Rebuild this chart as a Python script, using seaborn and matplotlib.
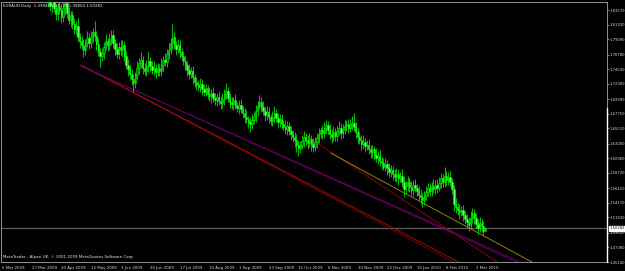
import numpy as np
import pandas as pd
import matplotlib
matplotlib.use("Agg")
import matplotlib.pyplot as plt
import matplotlib.transforms as mtransforms
import seaborn as sns

# ---------------- data ----------------
header_text = "EURAUD,Daily  1.49940 1.50325 1.49804 1.50282"
copyright_text = "MetaTrader - Alpari UK, \u00a9 2001-2009 MetaQuotes Software Corp."

first_bar = 20
first_open = 1.8900
closes = [
    1.8850, 1.8790, 1.8720, 1.8640, 1.8560, 1.8480, 1.8420, 1.8510, 1.8380, 1.8300,
    1.8410, 1.8350, 1.8250, 1.8390, 1.8460, 1.8310, 1.8200, 1.8280, 1.8150, 1.8060,
    1.8120, 1.7950, 1.7880, 1.7820, 1.7750, 1.7860, 1.7930, 1.7850, 1.7950, 1.8020,
    1.7960, 1.7840, 1.7720, 1.7650, 1.7700, 1.7800, 1.7880, 1.7820, 1.7910, 1.7970,
    1.7860, 1.7760, 1.7690, 1.7800, 1.7740, 1.7830, 1.7650, 1.7520, 1.7450, 1.7380,
    1.7300, 1.7250, 1.7360, 1.7480, 1.7550, 1.7600, 1.7470, 1.7420, 1.7500, 1.7580,
    1.7510, 1.7440, 1.7480, 1.7410, 1.7470, 1.7430, 1.7520, 1.7600, 1.7560, 1.7680,
    1.7750, 1.7860, 1.7940, 1.7830, 1.7760, 1.7820, 1.7720, 1.7650, 1.7580, 1.7520,
    1.7440, 1.7380, 1.7420, 1.7330, 1.7260, 1.7220, 1.7180, 1.7230, 1.7150, 1.7100,
    1.7160, 1.7080, 1.7040, 1.7090, 1.7020, 1.6980, 1.7030, 1.6970, 1.6940, 1.7000,
    1.7070, 1.7120, 1.7010, 1.6960, 1.6920, 1.6980, 1.6900, 1.6870, 1.6910, 1.6840,
    1.6780, 1.6730, 1.6690, 1.6650, 1.6620, 1.6680, 1.6740, 1.6820, 1.6900, 1.6960,
    1.6880, 1.6820, 1.6760, 1.6800, 1.6720, 1.6670, 1.6730, 1.6790, 1.6710, 1.6650,
    1.6690, 1.6620, 1.6580, 1.6540, 1.6590, 1.6510, 1.6460, 1.6420, 1.6370, 1.6300,
    1.6250, 1.6290, 1.6360, 1.6420, 1.6380, 1.6330, 1.6390, 1.6310, 1.6270, 1.6340,
    1.6400, 1.6460, 1.6520, 1.6480, 1.6550, 1.6600, 1.6530, 1.6470, 1.6420, 1.6490,
    1.6440, 1.6510, 1.6560, 1.6480, 1.6530, 1.6590, 1.6620, 1.6560, 1.6610, 1.6640,
    1.6580, 1.6490, 1.6420, 1.6370, 1.6310, 1.6350, 1.6280, 1.6300, 1.6240, 1.6190,
    1.6230, 1.6150, 1.6100, 1.6130, 1.6060, 1.6020, 1.5970, 1.6010, 1.5940, 1.5890,
    1.5920, 1.5850, 1.5810, 1.5860, 1.5790, 1.5830, 1.5740, 1.5620, 1.5680, 1.5730,
    1.5660, 1.5610, 1.5690, 1.5640, 1.5600, 1.5540, 1.5500, 1.5460, 1.5520, 1.5580,
    1.5640, 1.5600, 1.5670, 1.5630, 1.5690, 1.5650, 1.5720, 1.5790, 1.5740, 1.5820,
    1.5770, 1.5810, 1.5740, 1.5620, 1.5400, 1.5350, 1.5310, 1.5270, 1.5300, 1.5230,
    1.5170, 1.5120, 1.5080, 1.5190, 1.5260, 1.5180, 1.5090, 1.5040, 1.5110, 1.5060,
    1.4994, 1.50282,
]
wick_up_pips = [
    70, 90, 60, 80, 110, 75, 95, 55, 85, 70,
    60, 95, 70, 120, 55, 80, 100, 65, 60, 90,
    75, 110, 60, 85, 95, 55, 100, 70, 80, 65,
    170, 75, 90, 60, 85, 70, 105, 55, 95, 75,
    85, 60, 95, 70, 105, 75, 60, 85, 95, 70,
    75, 85, 55, 95, 70, 110, 60, 85, 95, 130,
    60, 75, 95, 55, 85, 70, 105, 60, 95, 75,
    105, 75, 200, 85, 60, 95, 75, 55, 85, 75,
    60, 95, 75, 85, 55, 75, 60, 95, 75, 85,
    75, 60, 85, 55, 95, 75, 60, 85, 75, 95,
    75, 130, 60, 85, 75, 55, 95, 60, 75, 85,
    60, 75, 95, 55, 75, 85, 60, 95, 75, 105,
    75, 85, 60, 95, 75, 55, 85, 105, 60, 75,
    85, 75, 60, 95, 75, 55, 85, 60, 75, 95,
    60, 75, 85, 95, 55, 75, 85, 60, 95, 75,
    75, 105, 60, 85, 95, 75, 60, 85, 75, 95,
    60, 75, 105, 75, 85, 95, 60, 75, 85, 95,
    140, 75, 60, 85, 75, 95, 60, 75, 85, 55,
    75, 60, 95, 75, 85, 55, 75, 95, 60, 85,
    75, 60, 85, 95, 75, 60, 105, 85, 75, 95,
    60, 85, 75, 95, 60, 75, 85, 60, 75, 95,
    75, 85, 60, 105, 75, 95, 85, 75, 60, 150,
    85, 75, 95, 60, 75, 85, 60, 95, 75, 85,
    60, 75, 85, 95, 75, 60, 85, 75, 95, 60,
    75, 4.3,
]
wick_down_pips = [
    85, 70, 105, 60, 95, 75, 85, 115, 60, 95,
    95, 60, 85, 75, 105, 70, 60, 95, 85, 75,
    85, 75, 105, 60, 110, 75, 60, 95, 75, 85,
    75, 95, 60, 160, 75, 85, 60, 95, 75, 85,
    75, 95, 60, 85, 75, 105, 75, 60, 95, 85,
    85, 140, 75, 60, 95, 75, 85, 60, 75, 95,
    85, 60, 75, 95, 60, 85, 75, 95, 60, 75,
    75, 60, 95, 75, 85, 60, 95, 75, 60, 85,
    85, 75, 60, 95, 75, 85, 60, 75, 95, 60,
    60, 85, 75, 95, 60, 75, 85, 60, 95, 75,
    85, 75, 60, 95, 75, 85, 60, 75, 95, 60,
    75, 95, 60, 85, 120, 75, 60, 85, 75, 60,
    85, 60, 95, 75, 85, 60, 75, 95, 60, 85,
    75, 85, 60, 75, 95, 60, 85, 75, 95, 105,
    120, 75, 60, 85, 75, 95, 60, 105, 75, 60,
    85, 75, 60, 95, 75, 85, 60, 75, 95, 60,
    75, 85, 60, 95, 75, 60, 85, 75, 60, 85,
    75, 85, 95, 60, 85, 75, 95, 60, 75, 85,
    85, 75, 60, 95, 75, 85, 60, 75, 95, 75,
    75, 85, 60, 75, 95, 60, 85, 120, 75, 85,
    85, 75, 95, 60, 75, 85, 95, 105, 75, 60,
    60, 75, 85, 60, 75, 85, 60, 75, 85, 75,
    75, 85, 60, 75, 105, 85, 75, 95, 60, 85,
    75, 85, 95, 60, 75, 85, 60, 95, 75, 85,
    75, 13.6,
]

date_labels = ["5 Mar 2009", "27 Mar 2009", "20 Apr 2009", "12 May 2009", "3 Jun 2009",
               "25 Jun 2009", "17 Jul 2009", "10 Aug 2009", "1 Sep 2009", "23 Sep 2009",
               "15 Oct 2009", "6 Nov 2009", "30 Nov 2009", "22 Dec 2009", "15 Jan 2010",
               "8 Feb 2010", "2 Mar 2010"]
date_tick_bars = [0, 16, 32, 48, 64, 80, 96, 112, 128, 144, 160, 176, 192, 208, 224, 240, 256]

price_ticks = [1.83570, 1.81330, 1.79090, 1.76780, 1.74540, 1.72300, 1.69990, 1.67750,
               1.65510, 1.63200, 1.60960, 1.58720, 1.56410, 1.54170, 1.51930, 1.49620,
               1.47380, 1.45140]
current_price = 1.50282

# trend lines: (colour, [bar start, bar end], [price start, price end])
trend_lines = {
    "red_a":    ("#8c0000", [42.6, 260.0], [1.7518, 1.4270]),
    "red_b":    ("#b01010", [42.6, 262.0], [1.7518, 1.4284]),
    "purple_a": ("#800080", [42.6, 295.0], [1.7503, 1.4301]),
    "purple_b": ("#5a0048", [53.4, 297.0], [1.7366, 1.4304]),
    "red_c":    ("#900a0a", [161.2, 275.0], [1.6497, 1.4372]),
    "yellow":   ("#a89200", [177.4, 290.0], [1.6176, 1.4455]),
}

# ---------------- style ----------------
sns.set_theme(style="dark", rc={
    "axes.facecolor": "black",
    "figure.facecolor": "black",
    "axes.edgecolor": "#b0b0b0",
    "axes.grid": False,
    "xtick.color": "#b0b0b0",
    "ytick.color": "#b0b0b0",
})
plt.rcParams["font.family"] = ["DejaVu Sans"]

fig = plt.figure(figsize=(6.25, 2.71), dpi=100)
ax = fig.add_axes([1 / 625, 1 - 262 / 271, 606 / 625, 260 / 271])
ax.set_facecolor("black")

closes_arr = np.array(closes)
opens_arr = np.concatenate([[first_open], closes_arr[:-1]])
bars = np.arange(first_bar, first_bar + len(closes_arr))
body_top = np.maximum(opens_arr, closes_arr)
body_bot = np.minimum(opens_arr, closes_arr)
highs = body_top + np.array(wick_up_pips) * 1e-4
lows = body_bot - np.array(wick_down_pips) * 1e-4

df = pd.DataFrame({"bar": bars, "open": opens_arr, "close": closes_arr,
                   "high": highs, "low": lows})
bull = (df["close"] >= df["open"]).values

# trend lines (behind candles)
for name, (col, xs, ys) in trend_lines.items():
    sns.lineplot(x=xs, y=ys, color=col, lw=0.6, ax=ax, legend=False, zorder=2)

# wicks
ax.vlines(df["bar"], df["low"], df["high"], color="#00e000", lw=0.6, zorder=3)
# bodies
heights = np.maximum(body_top - body_bot, 0.0006)
ax.bar(df["bar"][bull], heights[bull], bottom=body_bot[bull], width=0.75,
       color="#006a00", edgecolor="#00ff00", linewidth=0.4, zorder=4)
ax.bar(df["bar"][~bull], heights[~bull], bottom=body_bot[~bull], width=0.75,
       color="#70ff70", edgecolor="#00ff00", linewidth=0.4, zorder=4)

# current price line
ax.axhline(current_price, color="#5c5c5c", lw=0.9, zorder=1)

ax.set_xlim(-0.54, 326.7)
ax.set_ylim(1.4514, 1.8479)

# axes / ticks
ax.yaxis.tick_right()
ax.set_yticks(price_ticks)
ax.set_yticklabels([f"{v:.5f}" for v in price_ticks])
ax.tick_params(axis="y", direction="out", length=1.2, width=0.5, pad=0.4,
               labelsize=2.7, labelcolor="#d8d8d8", colors="#b0b0b0")
ax.set_xticks(date_tick_bars)
ax.set_xticklabels(date_labels)
ax.tick_params(axis="x", direction="out", length=2.2, width=0.5, pad=0.4,
               labelsize=2.9, labelcolor="#d8d8d8", colors="#b0b0b0")
for lbl in ax.get_xticklabels():
    lbl.set_horizontalalignment("left")
ax.set_xlabel("")
ax.set_ylabel("")
for sp in ax.spines.values():
    sp.set_color("#a8a8a8")
    sp.set_linewidth(0.6)

blend = mtransforms.blended_transform_factory(ax.transAxes, ax.transData)
# white portion of the right axis
ax.plot([1.0, 1.0], [1.4514, 1.686], transform=blend,
        color="white", lw=1.0, clip_on=False, zorder=6)

# current price label box
ax.text(1.0035, current_price, f"{current_price:.5f}", transform=blend,
        fontsize=2.7, color="black", va="center", ha="left",
        bbox=dict(boxstyle="square,pad=0.12", fc="white", ec="white"), zorder=7, clip_on=False)

# header and copyright
fig.text(3 / 625, 1 - 5.5 / 271, header_text, fontsize=2.9, color="#e8e8e8", va="center", ha="left")
ax.text(0.004, 0.012, copyright_text, transform=ax.transAxes, fontsize=2.9,
        color="#e8e8e8", va="bottom", ha="left")

fig.savefig("out.png", dpi=100, facecolor="black")
